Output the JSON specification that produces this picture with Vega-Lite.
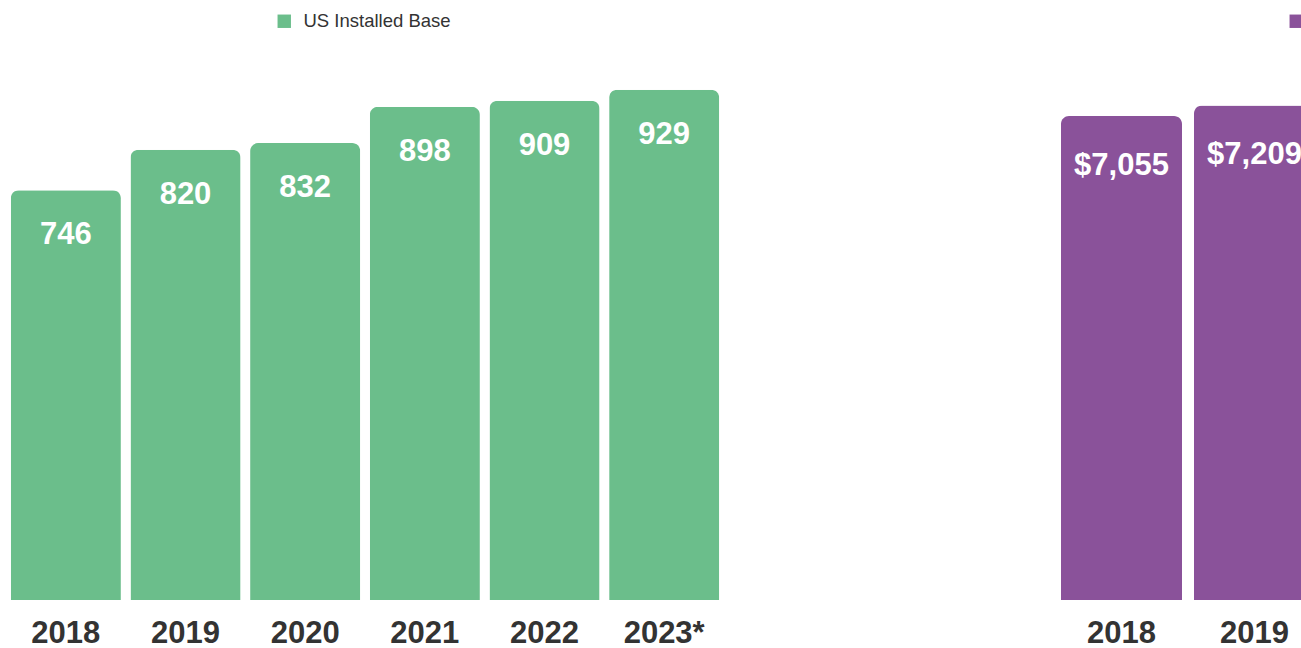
{
  "$schema": "https://vega.github.io/schema/vega-lite/v6.json",
  "autosize": {"type": "pad"},
  "padding": {"left": 6, "top": 12, "right": 0, "bottom": 0},
  "background": "white",
  "config": {
    "view": {"stroke": null},
    "font": "Liberation Sans",
    "axis": {"labelFont": "Liberation Sans"},
    "legend": {"labelFont": "Liberation Sans"}
  },
  "spacing": 331,
  "resolve": {"scale": {"x": "independent", "y": "independent", "color": "independent"}, "legend": {"color": "independent"}},
  "hconcat": [
    {
      "width": 718,
      "height": 570,
      "data": {"values": [
        {"year": "2018", "value": 746, "series": "US Installed Base"},
        {"year": "2019", "value": 820, "series": "US Installed Base"},
        {"year": "2020", "value": 832, "series": "US Installed Base"},
        {"year": "2021", "value": 898, "series": "US Installed Base"},
        {"year": "2022", "value": 909, "series": "US Installed Base"},
        {"year": "2023*", "value": 929, "series": "US Installed Base"}
      ]},
      "encoding": {
        "x": {"field": "year", "type": "nominal", "sort": null,
          "scale": {"paddingInner": 0.08, "paddingOuter": 0.04},
          "axis": {"title": null, "labelAngle": 0, "domain": false, "ticks": false, "labelPadding": 18, "labelFontSize": 31, "labelFontWeight": "bold", "labelColor": "#333333"}},
        "y": {"field": "value", "type": "quantitative", "scale": {"domain": [0, 1038], "nice": false}, "axis": null}
      },
      "layer": [
        {
          "mark": {"type": "bar", "cornerRadiusTopLeft": 8, "cornerRadiusTopRight": 8},
          "encoding": {
            "color": {"field": "series", "type": "nominal",
              "scale": {"domain": ["US Installed Base"], "range": ["#6BBE8B"]},
              "legend": {"title": null, "orient": "none", "legendX": 269, "legendY": -18, "symbolType": "square", "symbolSize": 180, "labelFontSize": 18.5, "labelColor": "#333333", "labelOffset": 10}}
          }
        },
        {
          "mark": {"type": "text", "color": "white", "fontSize": 31, "fontWeight": "bold", "baseline": "middle", "align": "center", "dy": 45},
          "encoding": {"text": {"field": "value", "type": "quantitative", "format": ",.0f"}}
        }
      ]
    },
    {
      "width": 266,
      "height": 570,
      "data": {"values": [
        {"year": "2018", "value": 7055, "series": "US Revenue"},
        {"year": "2019", "value": 7209, "series": "US Revenue"}
      ]},
      "encoding": {
        "x": {"field": "year", "type": "nominal", "sort": null,
          "scale": {"paddingInner": 0.09, "paddingOuter": 0.045},
          "axis": {"title": null, "labelAngle": 0, "domain": false, "ticks": false, "labelPadding": 18, "labelFontSize": 31, "labelFontWeight": "bold", "labelColor": "#333333"}},
        "y": {"field": "value", "type": "quantitative", "scale": {"domain": [0, 8309], "nice": false}, "axis": null}
      },
      "layer": [
        {
          "mark": {"type": "bar", "cornerRadiusTopLeft": 8, "cornerRadiusTopRight": 8},
          "encoding": {
            "color": {"field": "series", "type": "nominal",
              "scale": {"domain": ["US Revenue"], "range": ["#8A529A"]},
              "legend": {"title": null, "orient": "none", "legendX": 232, "legendY": -18, "symbolType": "square", "symbolSize": 180, "labelFontSize": 18.5, "labelColor": "#333333", "labelOffset": 10}}
          }
        },
        {
          "mark": {"type": "text", "color": "white", "fontSize": 31, "fontWeight": "bold", "baseline": "middle", "align": "center", "dy": 50},
          "encoding": {"text": {"field": "value", "type": "quantitative", "format": "$,.0f"}}
        }
      ]
    }
  ]
}
